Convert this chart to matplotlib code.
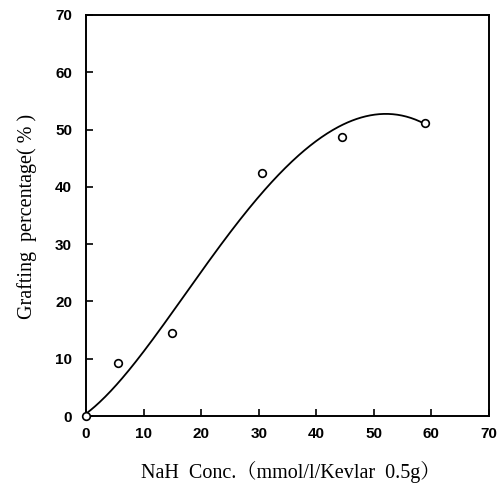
import numpy as np
import matplotlib
matplotlib.use("Agg")
import matplotlib.pyplot as plt

# measured data points
conc = [0.0, 5.6, 14.9, 30.6, 44.4, 58.8]
grafting = [0.0, 9.3, 14.5, 42.5, 48.7, 51.1]

# points
curve_x = [0.0, 3.0, 7.1, 9.7, 12.3, 19.0, 28.5, 32.9, 40.1, 45.9, 51.5, 58.8]
curve_y = [0.0, 4.0, 6.9, 10.7, 14.5, 23.8, 36.6, 41.6, 47.7, 51.7, 52.7, 51.0]

xticks = [0, 10, 20, 30, 40, 50, 60, 70]
yticks = [0, 10, 20, 30, 40, 50, 60, 70]

W, H = 503, 483
fig = plt.figure(figsize=(W / 100, H / 100), dpi=100)
L, R, T, B = 86, 489, 15, 416
ax = fig.add_axes([L / W, (H - B) / H, (R - L) / W, (B - T) / H])

coef = np.polyfit(curve_x, curve_y, 5)
xs = np.linspace(curve_x[0], curve_x[-1], 300)
ax.plot(xs, np.polyval(coef, xs), color="black", lw=1.3, clip_on=False)
ax.plot(conc, grafting, linestyle="none", marker="o", ms=5.5, mfc="white",
        mec="black", mew=1.2, clip_on=False, zorder=3)

ax.set_xlim(0, 70)
ax.set_ylim(0, 70)
ax.set_xticks(xticks)
ax.set_yticks(yticks)
for s in ax.spines.values():
    s.set_linewidth(1.4)
ax.tick_params(direction="in", length=5, width=1.2)
ax.tick_params(axis="x", pad=8)
ax.tick_params(axis="y", pad=10)
for lab in ax.get_xticklabels() + ax.get_yticklabels():
    lab.set_fontfamily("Liberation Sans")
    lab.set_fontweight("bold")
    lab.set_fontsize(11)

serif = ["Liberation Serif", "Noto Serif CJK JP", "Noto Sans CJK JP", "DejaVu Serif"]
fig.text(291 / W, 1 - 472 / H, "NaH  Conc.（mmol/l/Kevlar  0.5g）",
         ha="center", va="center", fontsize=14.5, family=serif)
fig.text(27 / W, 1 - 216 / H, "Grafting  percentage( % )", rotation=90,
         ha="center", va="center", fontsize=14.5, family=serif)

fig.savefig("out.png", dpi=100)
